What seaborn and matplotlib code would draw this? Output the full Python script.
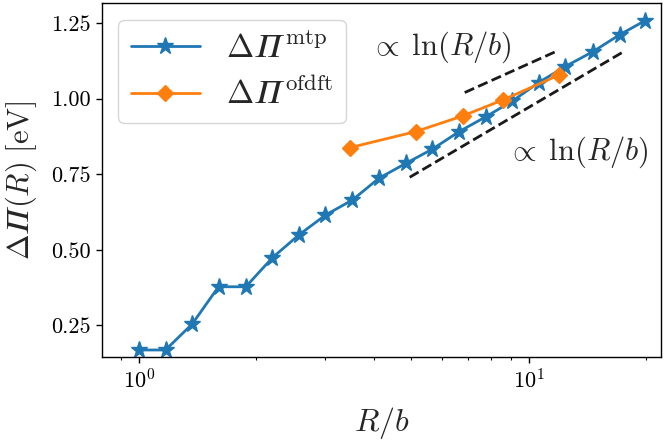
import matplotlib
matplotlib.use("Agg")
import matplotlib.pyplot as plt
import seaborn as sns

# values
r_mtp = [1.0, 1.17, 1.37, 1.60, 1.88, 2.20, 2.57, 3.01, 3.53, 4.13,
         4.84, 5.66, 6.63, 7.76, 9.08, 10.6, 12.4, 14.6, 17.1, 19.9]
dpi_mtp = [0.169, 0.169, 0.255, 0.378, 0.378, 0.474, 0.549, 0.615, 0.665, 0.737,
           0.786, 0.833, 0.891, 0.940, 0.992, 1.053, 1.106, 1.155, 1.211, 1.258]

r_ofdft = [3.48, 5.13, 6.78, 8.6, 11.96]
dpi_ofdft = [0.838, 0.891, 0.943, 0.996, 1.078]

# ln(R/b) guide lines (two end points each)
guide_upper_x = [6.85, 11.85]
guide_upper_y = [1.020, 1.158]
guide_lower_x = [4.95, 17.5]
guide_lower_y = [0.740, 1.155]

sns.set_theme(style="ticks")
plt.rcParams["font.family"] = ["cmr10", "DejaVu Serif"]
plt.rcParams["mathtext.fontset"] = "cm"
plt.rcParams["axes.formatter.use_mathtext"] = True
plt.rcParams["axes.edgecolor"] = "black"
plt.rcParams["axes.linewidth"] = 1.0
plt.rcParams["xtick.color"] = "black"
plt.rcParams["ytick.color"] = "black"

fig = plt.figure(figsize=(6.64, 4.46), dpi=100)
ax = fig.add_axes([0.1533, 0.199, 0.8429, 0.7936])

blue = "#1f77b4"
orange = "#ff7f0e"
PI = "\U0001D6F1"  # italic capital Pi

sns.lineplot(x=r_mtp, y=dpi_mtp, ax=ax, color=blue, marker="*", markersize=12.5,
             markeredgecolor=blue, markeredgewidth=1, linewidth=2,
             label=r"$\Delta " + PI + r"^{\mathrm{mtp}}$")
sns.lineplot(x=r_ofdft, y=dpi_ofdft, ax=ax, color=orange, marker="D", markersize=8,
             markeredgecolor=orange, markeredgewidth=1, linewidth=2,
             label=r"$\Delta " + PI + r"^{\mathrm{ofdft}}$")

ax.plot(guide_upper_x, guide_upper_y, "k--", linewidth=2)
ax.plot(guide_lower_x, guide_lower_y, "k--", linewidth=2)

ax.text(5.95, 1.171, r"$\propto\;\ln(R/b)$", fontsize=22, ha="center", va="center")
ax.text(13.4, 0.824, r"$\propto\;\ln(R/b)$", fontsize=22, ha="center", va="center")

ax.set_xscale("log")
ax.set_xlim(0.803, 21.9)
ax.set_ylim(0.145, 1.315)
ax.set_yticks([0.25, 0.50, 0.75, 1.00, 1.25])
ax.set_yticklabels(["0.25", "0.50", "0.75", "1.00", "1.25"])
ax.tick_params(axis="both", which="major", labelsize=16, length=4.5, width=1,
               direction="out", bottom=True, left=True)
ax.tick_params(axis="x", which="minor", length=2.5, width=0.8, bottom=True)

ax.set_xlabel(r"$R/b$", fontsize=23, labelpad=9)
ax.set_ylabel(r"$\Delta " + PI + r"(R)\ [\mathrm{eV}]$", fontsize=22, labelpad=9)

ax.legend(loc="upper left", fontsize=23.5, handlelength=2.1, borderaxespad=0.5,
          labelspacing=0.4)

fig.savefig("out.png", dpi=100)
